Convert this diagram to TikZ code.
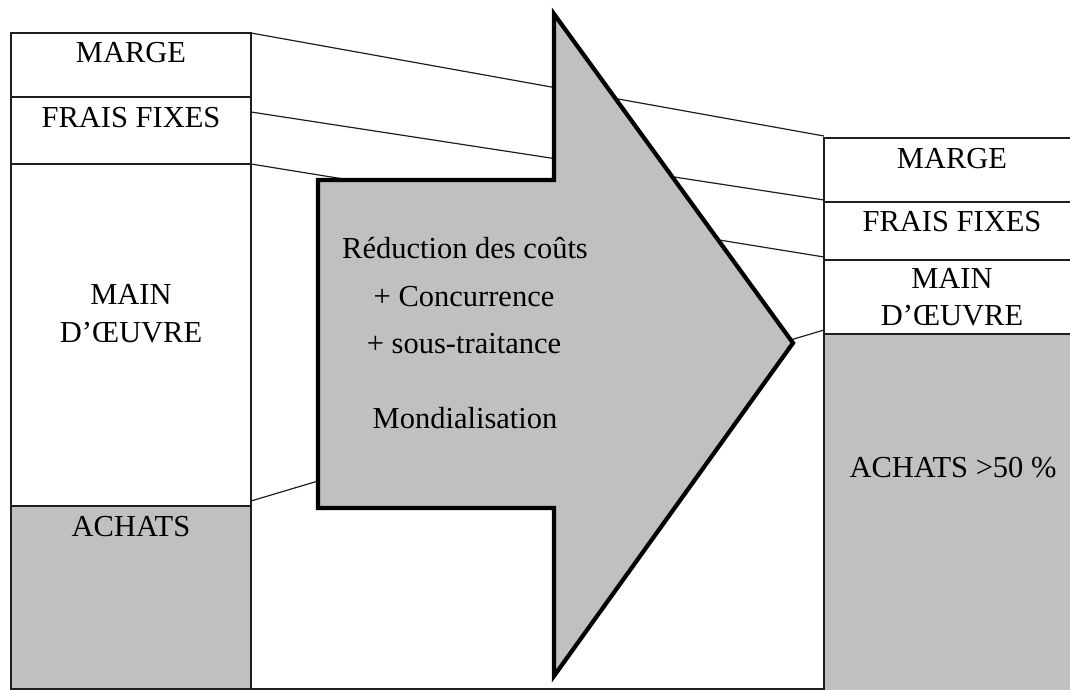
\documentclass[tikz,border=0pt]{standalone}
\usepackage{fontspec}
\setmainfont{Liberation Serif}
\definecolor{achgray}{RGB}{192,192,192}
\definecolor{edge}{RGB}{30,30,30}
\begin{document}
\begin{tikzpicture}[x=1pt,y=-1pt,
  box/.style={draw=edge, line width=1.3pt},
  graybox/.style={box, fill=achgray},
  link/.style={draw=edge, line width=1.2pt},
  lbl/.style={font=\fontsize{30.5}{36}\selectfont, anchor=base, inner sep=0pt},
  bigarrow/.style={draw=black, line width=4.2pt, fill=achgray, line join=miter}]
\useasboundingbox (0,0) rectangle (1070,690);
% left column
\draw[box] (11,33) rectangle (251,97);
\draw[box] (11,97) rectangle (251,164);
\draw[box] (11,164) rectangle (251,506);
\draw[graybox] (11,506) rectangle (251,689);
% right column
\draw[box] (824,138) rectangle (1073,202);
\draw[box] (824,202) rectangle (1073,260);
\draw[box] (824,260) rectangle (1073,334);
\draw[graybox] (824,334) rectangle (1073,693);
% bottom line
\coordinate (bl) at (251,689);
\coordinate (br) at (824,689);
\draw[box] (bl) -- (br);
% link end points
\coordinate (a1) at (251,33);
\coordinate (b1) at (824,136);
\coordinate (a2) at (251,112);
\coordinate (b2) at (824,200);
\coordinate (a3) at (251,164);
\coordinate (b3) at (824,257);
\coordinate (a4) at (251,501);
\coordinate (b4) at (824,330);
\draw[link] (a1) -- (b1);
\draw[link] (a2) -- (b2);
\draw[link] (a3) -- (b3);
\draw[link] (a4) -- (b4);
% big arrow
\draw[bigarrow] (318,180) -- (554,180) -- (554,14) -- (793,343) -- (554,676) -- (554,508) -- (318,508) -- cycle;
% left labels
\node[lbl] (lmarge) at (131,63) {MARGE};
\node[lbl] (lfrais) at (131,128) {FRAIS FIXES};
\node[lbl] (lmain) at (131,304) {MAIN};
\node[lbl] (loeuvre) at (131,342) {D’ŒUVRE};
\node[lbl] (lachats) at (131,536) {ACHATS};
% right labels
\node[lbl] (rmarge) at (952,168) {MARGE};
\node[lbl] (rfrais) at (952,231) {FRAIS FIXES};
\node[lbl] (rmain) at (952,288) {MAIN};
\node[lbl] (roeuvre) at (952,325) {D’ŒUVRE};
\node[lbl] (rachats) at (953,477) {ACHATS >50 \%};
% arrow text
\node[lbl] (t1) at (465,258) {Réduction des coûts};
\node[lbl] (t2) at (464,306) {+ Concurrence};
\node[lbl] (t3) at (464,353) {+ sous-traitance};
\node[lbl] (t4) at (465,428) {Mondialisation};
\end{tikzpicture}
\end{document}
